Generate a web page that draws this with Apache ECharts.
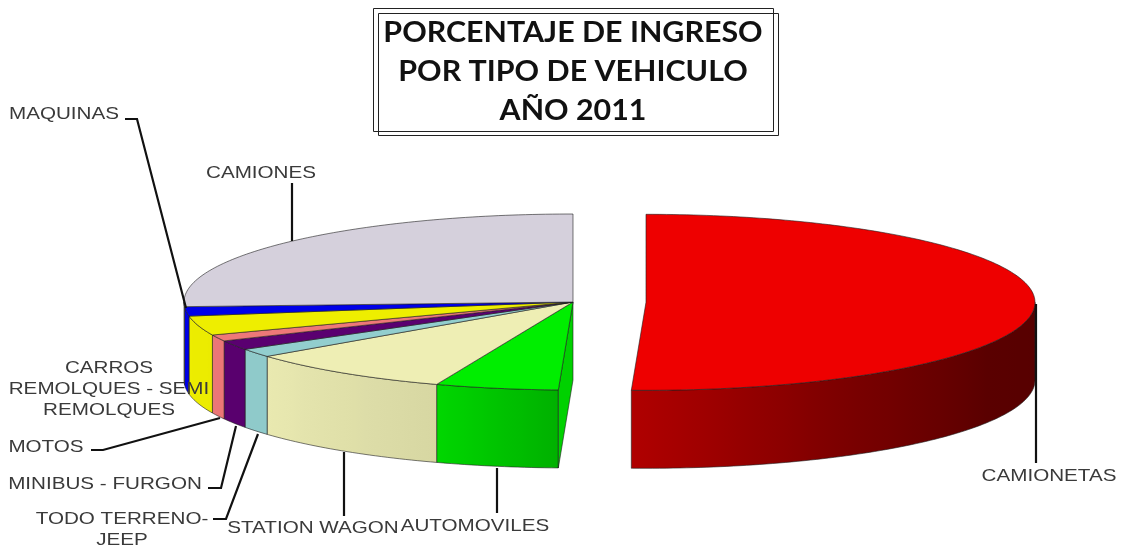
<!DOCTYPE html>
<html>
<head>
<meta charset="utf-8">
<style>html,body{margin:0;padding:0;background:#fff}#c{width:1123px;height:546px}</style>
<script src="https://cdn.jsdelivr.net/npm/echarts@6/dist/echarts.min.js"></script>
</head>
<body>
<div id="c"></div>
<script>
// ---- data (share of income, %) ----
var categories = ['CAMIONETAS','AUTOMOVILES','STATION WAGON','TODO TERRENO-\nJEEP','MINIBUS - FURGON','MOTOS','CARROS\nREMOLQUES - SEMI\nREMOLQUES','MAQUINAS','CAMIONES'];
var shares = [50.6, 5.1, 8.7, 1.56, 1.75, 1.17, 3.56, 1.72, 25.84];
var exploded = ['CAMIONETAS'];
var titleLines = ['PORCENTAJE DE INGRESO','POR TIPO DE VEHICULO','AÑO 2011'];

// ---- styles ----
var colors = ['#EE0000','#00EE00','#EEEEB4','#92CECE','#5A0070','#EE7878','#EEEE00','#0000E8','#D5D0DC'];
var shadeStops = [[90,.36],[120,.38],[150,.52],[182,.74],[200,.9],[232,.98],[270,1]];

// ---- layout ----
var CX = 573, CY = 302, RX = 389, RY = 88, DEPTH = 78, EXPLODE = 73;
var labelPos = {
  'CAMIONETAS':[1049,476],'AUTOMOVILES':[475,526],'STATION WAGON':[313,528],
  'TODO TERRENO-\nJEEP':[122,530],'MINIBUS - FURGON':[105,484],'MOTOS':[46,447],
  'CARROS\nREMOLQUES - SEMI\nREMOLQUES':[109,389],'MAQUINAS':[64,114],'CAMIONES':[261,173]
};
var leaderLines = [
  [[125,119],[137,119],[186,308]],[[292,183],[292,241]],[[1036,304],[1036,463]],
  [[497,468],[497,513]],[[344,452],[344,516]],[[213,519],[226,519],[258,434]],
  [[208,488],[221,488],[236,426]],[[91,450],[103,450],[220,418]]
];

function shade(t){
  var s = shadeStops;
  if (t <= s[0][0]) return s[0][1];
  for (var i = 1; i < s.length; i++) {
    if (t <= s[i][0]) {
      var f = (t - s[i-1][0]) / (s[i][0] - s[i-1][0]);
      return s[i-1][1] + f * (s[i][1] - s[i-1][1]);
    }
  }
  return 1;
}
function mul(hex, k){
  var n = parseInt(hex.slice(1), 16);
  return 'rgb(' + Math.round((n>>16&255)*k) + ',' + Math.round((n>>8&255)*k) + ',' + Math.round((n&255)*k) + ')';
}
var total = shares.reduce(function(a,b){return a+b;}, 0);
var running = 0;
var rows = shares.map(function(v, i){
  var a = running / total * 360; running += v;
  return [a, running / total * 360, i];
});
var OUT = 'rgba(30,30,30,.75)';

function renderSlice(params, api){
  var a = api.value(0), b = api.value(1), i = api.value(2);
  var mid = (a + b) / 2 * Math.PI / 180;
  var isEx = exploded.indexOf(categories[i]) >= 0;
  var cx = CX + (isEx ? EXPLODE * Math.sin(mid) : 0);
  var cy = CY - (isEx ? EXPLODE * Math.cos(mid) * RY / RX : 0);
  function rim(t, d){
    var r = t * Math.PI / 180;
    return [cx + RX * Math.sin(r), cy - RY * Math.cos(r) + (d || 0)];
  }
  var children = [], color = colors[i];
  // outer wall: only the front half of the rim is visible
  var wa = Math.max(a, 90), wb = Math.min(b, 270);
  if (wb > wa) {
    var topEdge = [], botEdge = [], t;
    for (t = wa; t < wb; t += 1) { topEdge.push(rim(t)); botEdge.push(rim(t, DEPTH)); }
    topEdge.push(rim(wb)); botEdge.push(rim(wb, DEPTH));
    var xs = topEdge.map(function(p){return p[0];});
    var xmin = Math.min.apply(null, xs), xmax = Math.max.apply(null, xs);
    var stops = [], n = 16;
    for (var k = 0; k <= n; k++) {
      var tt = wa + (wb - wa) * k / n, x = rim(tt)[0];
      stops.push({offset: xmax > xmin ? (x - xmin) / (xmax - xmin) : 0, color: mul(color, shade(tt))});
    }
    stops.sort(function(p, q){return p.offset - q.offset;});
    children.push({type:'polygon', shape:{points: topEdge.concat(botEdge.reverse())},
      style:{fill:new echarts.graphic.LinearGradient(0,0,1,0,stops), stroke:OUT, lineWidth:.8}});
  }
  // cut face that faces the gap left by the exploded slice
  if (i > 0 && exploded.indexOf(categories[i-1]) >= 0) {
    var e = rim(a);
    children.push({type:'polygon', shape:{points:[[cx,cy],[cx,cy+DEPTH],[e[0],e[1]+DEPTH],e]},
      style:{fill:mul(color,.88), stroke:OUT, lineWidth:.8}});
  }
  // top face
  var pts = [[cx,cy]];
  for (var u = a; u < b; u += 1) pts.push(rim(u));
  pts.push(rim(b));
  children.push({type:'polygon', shape:{points:pts}, style:{fill:color, stroke:OUT, lineWidth:.8}});
  return {type:'group', children:children};
}

var labelStyle = {fill:'#3a3a3a', font:'16.5px "Liberation Sans"', align:'center', verticalAlign:'middle', lineHeight:21};
var graphics = [];
[[373.5,8.5,400,123],[378.5,13.5,400,122]].forEach(function(r){
  graphics.push({type:'rect', shape:{x:r[0],y:r[1],width:r[2],height:r[3]},
    style:{fill:'transparent', stroke:'#222', lineWidth:1}, silent:true});
});
graphics.push({type:'text', x:573, y:72, silent:true, scaleX:1.085, style:{
  text:titleLines.join('\n'), fill:'#111', font:'bold 28px Lato', align:'center', verticalAlign:'middle', lineHeight:39}});
leaderLines.forEach(function(p){
  graphics.push({type:'polyline', shape:{points:p}, style:{fill:'none', stroke:'#111', lineWidth:2.2}, silent:true, z:5});
});
categories.forEach(function(c){
  graphics.push({type:'text', x:labelPos[c][0], y:labelPos[c][1], scaleX:1.25, silent:true, z:6, style:Object.assign({text:c}, labelStyle)});
});

var chart = echarts.init(document.getElementById('c'), null, {renderer:'canvas'});
chart.setOption({
  animation:false,
  backgroundColor:'#fff',
  series:[{type:'custom', coordinateSystem:'none', silent:true, renderItem:renderSlice, data:rows, z:2}],
  graphic:graphics
});
</script>
</body>
</html>
